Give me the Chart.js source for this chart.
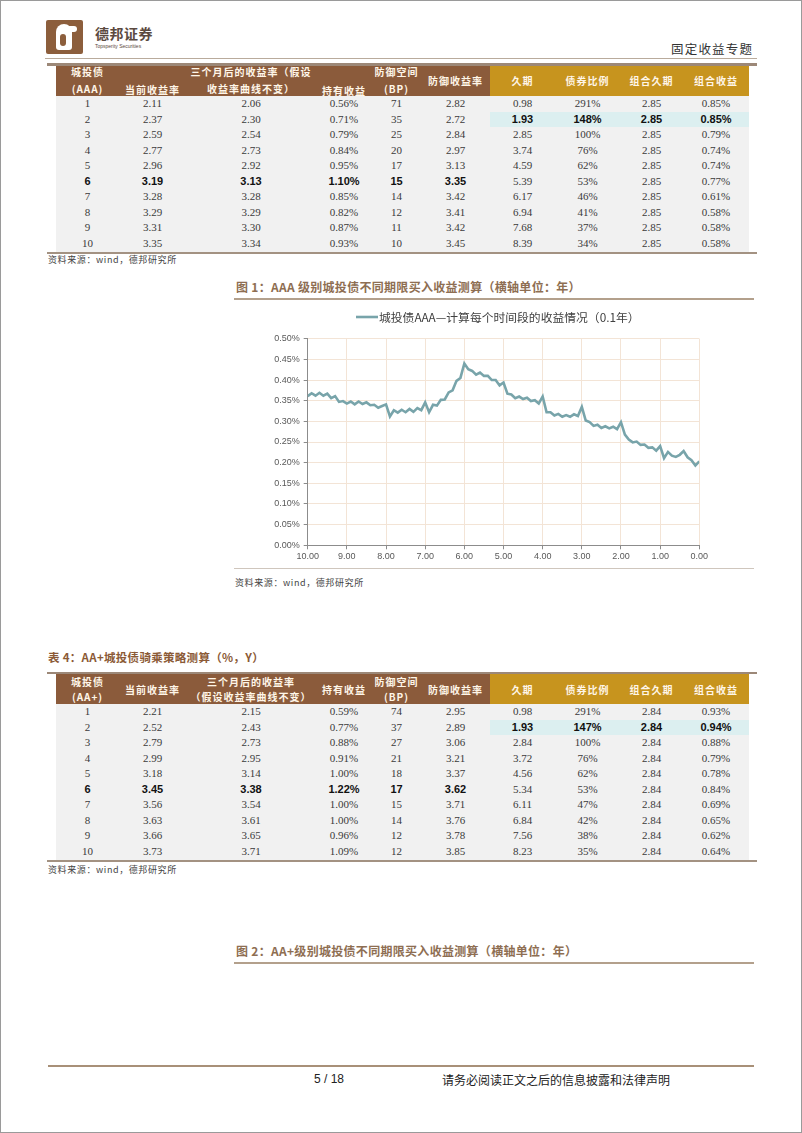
<!DOCTYPE html>
<html><head><meta charset="utf-8">
<script src="https://cdn.jsdelivr.net/npm/chart.js@4.4.1/dist/chart.umd.min.js"></script>
<style>
html,body{margin:0;padding:0;background:#fff;}
#page{position:relative;width:802px;height:1133px;overflow:hidden;font-family:"Noto Sans CJK SC","Noto Sans",sans-serif;color:#333;box-sizing:border-box;border:1px solid #9a9a9a;}
.abs{position:absolute;white-space:nowrap;}
.cell{position:absolute;text-align:center;white-space:nowrap;font-family:"Liberation Serif","DejaVu Serif",serif;font-size:11px;color:#3a3a3a;}
.hcell{position:absolute;text-align:center;white-space:nowrap;font-family:"Noto Sans CJK SC",sans-serif;font-weight:bold;font-size:10px;letter-spacing:1px;color:#FFF6E8;}
.b{font-family:"Liberation Sans",Arial,sans-serif;font-weight:bold;color:#111;}
.src{font-size:9px;letter-spacing:0.6px;color:#444;}
.cap{font-size:12px;color:#8E6E52;font-weight:bold;letter-spacing:0.3px;}
</style></head>
<body>
<div id="page">
  <!-- header -->
  <div class="abs" style="left:45px;top:19px;width:37px;height:34px;background:#8C5E3C;border-radius:2px;"></div>
  <div class="abs" style="left:55px;top:23px;width:16px;height:26px;background:#fff;border-radius:8px 8px 3px 3px;"></div>
  <div class="abs" style="left:66px;top:25px;width:10px;height:6px;background:#fff;border-radius:3px;"></div>
  <div class="abs" style="left:59px;top:33px;width:6px;height:12px;background:#8C5E3C;border-radius:3px;"></div>
  <div class="abs" style="left:94px;top:25px;font-size:14px;line-height:15px;font-weight:bold;color:#5b4a40;letter-spacing:0.5px;">德邦证券</div>
  <div class="abs" style="left:94px;top:42px;font-size:5px;line-height:6px;color:#5b4a40;font-family:'Liberation Sans',sans-serif;">Topsperity Securities</div>
  <div class="abs" style="left:670px;top:38px;font-size:12.5px;color:#333;letter-spacing:1.2px;">固定收益专题</div>
  <div class="abs" style="left:44px;top:57px;width:712px;height:1px;background:#b9ab9c;"></div>

  <div id="t1"></div>
  <div class="abs src" style="left:47px;top:252px;">资料来源：wind，德邦研究所</div>

  <div class="abs cap" style="left:235px;top:277px;">图 1：AAA 级别城投债不同期限买入收益测算（横轴单位：年）</div>
  <div class="abs" style="left:233px;top:297px;width:520px;height:2px;background:#b3a08c;"></div>

  <div class="abs" style="left:233px;top:300px;width:520px;height:267px;">
    <canvas id="c1" width="520" height="267"></canvas>
  </div>
  <div class="abs" style="left:233px;top:567px;width:520px;height:1px;background:#cfc6bd;"></div>
  <div class="abs src" style="left:234px;top:575px;">资料来源：wind，德邦研究所</div>

  <div class="abs cap" style="left:47px;top:648px;color:#8B5A36;font-size:11.5px;">表 4：AA+城投债骑乘策略测算（%，Y）</div>
  <div id="t2"></div>
  <div class="abs src" style="left:47px;top:862px;">资料来源：wind，德邦研究所</div>

  <div class="abs cap" style="left:235px;top:941px;">图 2：AA+级别城投债不同期限买入收益测算（横轴单位：年）</div>
  <div class="abs" style="left:233px;top:961px;width:520px;height:2px;background:#b3a08c;"></div>

  <!-- footer -->
  <div class="abs" style="left:47px;top:1064px;width:706px;height:2px;background:#a89078;"></div>
  <div class="abs" style="left:313px;top:1071px;font-size:12px;font-family:'Liberation Sans',sans-serif;color:#222;">5 / 18</div>
  <div class="abs" style="left:441px;top:1070px;font-size:12px;color:#222;">请务必阅读正文之后的信息披露和法律声明</div>
</div>

<script>
// ---------- chart data ----------
const seriesLabel = "城投债AAA—计算每个时间段的收益情况（0.1年）";
const years = [10.0,9.9,9.8,9.7,9.6,9.5,9.4,9.3,9.2,9.1,
               9.0,8.9,8.8,8.7,8.6,8.5,8.4,8.3,8.2,8.1,
               8.0,7.9,7.8,7.7,7.6,7.5,7.4,7.3,7.2,7.1,
               7.0,6.9,6.8,6.7,6.6,6.5,6.4,6.3,6.2,6.1,
               6.0,5.9,5.8,5.7,5.6,5.5,5.4,5.3,5.2,5.1,
               5.0,4.9,4.8,4.7,4.6,4.5,4.4,4.3,4.2,4.1,
               4.0,3.9,3.8,3.7,3.6,3.5,3.4,3.3,3.2,3.1,
               3.0,2.9,2.8,2.7,2.6,2.5,2.4,2.3,2.2,2.1,
               2.0,1.9,1.8,1.7,1.6,1.5,1.4,1.3,1.2,1.1,
               1.0,0.9,0.8,0.7,0.6,0.5,0.4,0.3,0.2,0.1,
               0.0];
const returnsPct = [0.361,0.368,0.362,0.369,0.362,0.367,0.356,0.361,0.347,0.349,
                    0.343,0.348,0.341,0.348,0.342,0.346,0.339,0.340,0.333,0.337,
                    0.341,0.312,0.327,0.321,0.328,0.322,0.330,0.323,0.332,0.327,
                    0.346,0.322,0.340,0.338,0.352,0.353,0.370,0.375,0.398,0.405,
                    0.440,0.426,0.422,0.413,0.418,0.410,0.410,0.400,0.400,0.387,
                    0.394,0.367,0.365,0.356,0.360,0.354,0.357,0.349,0.351,0.343,
                    0.360,0.322,0.322,0.314,0.318,0.311,0.315,0.311,0.317,0.313,
                    0.335,0.302,0.298,0.289,0.292,0.284,0.288,0.283,0.287,0.281,
                    0.298,0.268,0.256,0.249,0.251,0.243,0.244,0.236,0.237,0.229,
                    0.240,0.211,0.226,0.217,0.214,0.219,0.228,0.213,0.206,0.193,
                    0.203];

// ---------- table data ----------
const colEdges = [55,118,185,315,371,420,489,554,619,682,748];
const headersAAA = ["城投债<br>(AAA)","当前收益率","三个月后的收益率（假设<br>收益率曲线不变）","持有收益","防御空间<br>(BP)","防御收益率","久期","债券比例","组合久期","组合收益"];
const headersAAp = ["城投债<br>(AA+)","当前收益率","三个月后的收益率<br>（假设收益率曲线不变）","持有收益","防御空间<br>(BP)","防御收益率","久期","债券比例","组合久期","组合收益"];
const rowsAAA = [
 ["1","2.11","2.06","0.56%","71","2.82","0.98","291%","2.85","0.85%"],
 ["2","2.37","2.30","0.71%","35","2.72","1.93","148%","2.85","0.85%"],
 ["3","2.59","2.54","0.79%","25","2.84","2.85","100%","2.85","0.79%"],
 ["4","2.77","2.73","0.84%","20","2.97","3.74","76%","2.85","0.74%"],
 ["5","2.96","2.92","0.95%","17","3.13","4.59","62%","2.85","0.74%"],
 ["6","3.19","3.13","1.10%","15","3.35","5.39","53%","2.85","0.77%"],
 ["7","3.28","3.28","0.85%","14","3.42","6.17","46%","2.85","0.61%"],
 ["8","3.29","3.29","0.82%","12","3.41","6.94","41%","2.85","0.58%"],
 ["9","3.31","3.30","0.87%","11","3.42","7.68","37%","2.85","0.58%"],
 ["10","3.35","3.34","0.93%","10","3.45","8.39","34%","2.85","0.58%"]];
const rowsAAp = [
 ["1","2.21","2.15","0.59%","74","2.95","0.98","291%","2.84","0.93%"],
 ["2","2.52","2.43","0.77%","37","2.89","1.93","147%","2.84","0.94%"],
 ["3","2.79","2.73","0.88%","27","3.06","2.84","100%","2.84","0.88%"],
 ["4","2.99","2.95","0.91%","21","3.21","3.72","76%","2.84","0.79%"],
 ["5","3.18","3.14","1.00%","18","3.37","4.56","62%","2.84","0.78%"],
 ["6","3.45","3.38","1.22%","17","3.62","5.34","53%","2.84","0.84%"],
 ["7","3.56","3.54","1.00%","15","3.71","6.11","47%","2.84","0.69%"],
 ["8","3.63","3.61","1.00%","14","3.76","6.84","42%","2.84","0.65%"],
 ["9","3.66","3.65","0.96%","12","3.78","7.56","38%","2.84","0.62%"],
 ["10","3.73","3.71","1.09%","12","3.85","8.23","35%","2.84","0.64%"]];

function buildTable(id, lineTop, hTop, hBot, headers, rows, singleShift, twoLineGap){
  const root = document.getElementById(id);
  let html = '';
  html += `<div class="abs" style="left:46px;top:${lineTop}px;width:710px;height:2.5px;background:#9c8878;"></div>`;
  const rowH = 15.56;
  for(let c=0;c<10;c++){
    const l=colEdges[c], w=colEdges[c+1]-colEdges[c];
    const bg = c<6 ? '#8B5B3B' : '#C7941E';
    html += `<div class="abs" style="left:${l}px;top:${hTop}px;width:${w}px;height:${hBot-hTop}px;background:${bg};"></div>`;
    const txt = headers[c];
    const mid = (hTop+hBot)/2;
    if(txt.indexOf('<br>')>=0){
      const lh = twoLineGap;
      html += `<div class="hcell" style="left:${l-20}px;width:${w+40}px;top:${mid-lh}px;line-height:${lh}px;">${txt}</div>`;
    } else {
      const sh = singleShift[c]||0;
      html += `<div class="hcell" style="left:${l-20}px;width:${w+40}px;top:${mid-8+sh}px;line-height:16px;">${txt}</div>`;
    }
  }
  for(let r=0;r<rows.length;r++){
    const top = hBot + r*rowH;
    html += `<div class="abs" style="left:55px;top:${top}px;width:693px;height:${rowH+0.3}px;background:#F1F1F1;"></div>`;
    if(r===1) html += `<div class="abs" style="left:489px;top:${top}px;width:259px;height:${rowH+0.3}px;background:#DCEFF0;"></div>`;
    for(let c=0;c<10;c++){
      const l=colEdges[c], w=colEdges[c+1]-colEdges[c];
      const bold = (r===5 && c<6) || (r===1 && c>=6);
      html += `<div class="cell${bold?' b':''}" style="left:${l}px;width:${w}px;top:${top}px;height:${rowH}px;line-height:${rowH}px;">${rows[r][c]}</div>`;
    }
  }
  const bot = hBot + rows.length*rowH;
  html += `<div class="abs" style="left:46px;top:${bot}px;width:710px;height:2px;background:#a39282;"></div>`;
  root.innerHTML = html;
}
buildTable('t1', 62, 65, 95, headersAAA, rowsAAA, {1:9,3:10}, 16.7);
buildTable('t2', 670.5, 672.5, 703, headersAAp, rowsAAp, {1:1.5,3:1.5,5:1.5,6:1.5,7:1.5,8:1.5,9:1.5}, 15);

// ---------- chart ----------
const lineColor = '#78A4AA';
const legendPlugin = {
  id:'topLegend',
  afterDraw(chart){
    const c = chart.ctx;
    c.save();
    c.strokeStyle = lineColor; c.lineWidth = 2.6;
    c.beginPath(); c.moveTo(122,16); c.lineTo(144,16); c.stroke();
    c.fillStyle = '#404040';
    c.font = '11.8px "Noto Sans CJK SC"';
    c.textBaseline = 'middle';
    c.fillText(seriesLabel, 145, 16.5);
    c.restore();
  }
};
new Chart(document.getElementById('c1'), {
  type:'line',
  data:{datasets:[{
    label: seriesLabel,
    data: years.map((x,i)=>({x:x, y:returnsPct[i]})),
    borderColor: lineColor, backgroundColor: lineColor,
    borderWidth: 2.6, pointRadius: 0, tension: 0, fill: false
  }]},
  options:{
    responsive:false, animation:false, devicePixelRatio:1,
    layout:{padding:{left:0,right:54.7,top:37.7,bottom:0}},
    plugins:{legend:{display:false}, tooltip:{enabled:false}},
    scales:{
      x:{type:'linear', reverse:true, min:0, max:10,
         ticks:{stepSize:1, autoSkip:false, maxRotation:0, padding:2,
                callback:v=>Number(v).toFixed(2),
                font:{family:'Liberation Sans', size:9}, color:'#595959'},
         grid:{color:'#F3E4D6', lineWidth:1, tickLength:4, tickColor:'#8c8c8c'},
         border:{color:'#8c8c8c', width:1},
         afterFit:s=>{s.height=22.7;}
      },
      y:{min:0, max:0.5,
         ticks:{stepSize:0.05, padding:4,
                callback:v=>Number(v).toFixed(2)+'%',
                font:{family:'Liberation Sans', size:9}, color:'#595959'},
         grid:{color:'#F3E4D6', lineWidth:1, tickLength:4, tickColor:'#8c8c8c'},
         border:{color:'#8c8c8c', width:1},
         afterFit:s=>{s.width=73.7;}
      }
    }
  },
  plugins:[legendPlugin]
});
</script>
</body></html>
